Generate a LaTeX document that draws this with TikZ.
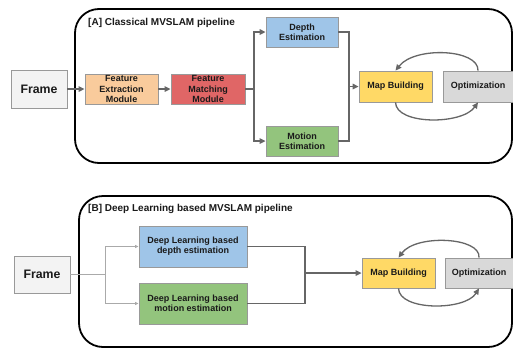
\documentclass[tikz,border=0pt]{standalone}
\usepackage{fontspec}
\setmainfont{Liberation Sans}
\usetikzlibrary{arrows.meta}
\definecolor{cFrame}{HTML}{F3F3F3}
\definecolor{cFE}{HTML}{F9CB9C}
\definecolor{cFM}{HTML}{E06666}
\definecolor{cDepth}{HTML}{9FC5E8}
\definecolor{cMotion}{HTML}{93C47D}
\definecolor{cMap}{HTML}{FFD966}
\definecolor{cOpt}{HTML}{D9D9D9}
\definecolor{cBorder}{HTML}{999999}
\definecolor{cLine}{HTML}{666666}
\definecolor{cLight}{HTML}{AAAAAA}
\definecolor{cText}{HTML}{1A1A1A}
\begin{document}
\begin{tikzpicture}[x=1pt,y=-1pt,
  box/.style={draw=cBorder,line width=0.8pt,inner sep=0pt,align=center,
    text=cText,font=\bfseries\fontsize{9}{10.2}\selectfont},
  framebox/.style={box,fill=cFrame,font=\bfseries\fontsize{12.3}{14}\selectfont},
  panel/.style={draw=black,line width=1.8pt,rounded corners=24pt},
  title/.style={anchor=west,inner sep=0pt,text=cText,font=\bfseries\fontsize{10}{12}\selectfont},
  conn/.style={draw=cLine,line width=1.3pt},
  arr/.style={conn,-{Triangle[length=6pt,width=5.5pt]}},
  thin/.style={draw=cLight,line width=0.9pt},
  thinarr/.style={thin,-{Triangle[length=3.5pt,width=3pt]}}
]
\useasboundingbox (0,0) rectangle (513,348);
\fill[white] (0,0) rectangle (513,348);

% ---------- Panel A ----------
\draw[panel] (75,9) rectangle (512,163);
\node[title] (titleA) at (88,23) {[A] Classical MVSLAM pipeline};

\node[framebox,minimum width=56pt,minimum height=38pt] (frameA) at (39,89) {Frame};
\node[box,fill=cFE,minimum width=73pt,minimum height=30pt] (fe) at (121.5,89) {Feature\\Extraction\\Module};
\node[box,fill=cFM,minimum width=74pt,minimum height=30pt] (fm) at (208,89) {Feature\\Matching\\Module};
\node[box,fill=cDepth,minimum width=72pt,minimum height=30pt] (depth) at (302,32) {Depth\\Estimation};
\node[box,fill=cMotion,minimum width=72pt,minimum height=30pt] (motion) at (302,141) {Motion\\Estimation};
\node[box,fill=cMap,minimum width=73pt,minimum height=31pt] (mapA) at (395.5,86.5) {Map Building};
\node[box,fill=cOpt,minimum width=70pt,minimum height=31pt] (optA) at (478,86.5) {Optimization};

\coordinate (splitA) at (254,89);
\coordinate (joinA) at (349,86.5);
\draw[arr] (frameA) -- (fe);
\draw[arr] (fe) -- (fm);
\draw[conn] (fm.east) -- (splitA);
\draw[arr] (splitA) |- (depth.west);
\draw[arr] (splitA) |- (motion.west);
\draw[conn] (depth.east) -| (joinA);
\draw[conn] (motion.east) -| (joinA);
\draw[arr] (joinA) -- (mapA.west);
\draw[arr] (optA.north) .. controls (479,49) and (415,46) .. (mapA.north);
\draw[arr] (mapA.south) .. controls (396,125) and (462,125) .. (optA.south);

% ---------- Panel B ----------
\draw[panel] (79,196) rectangle (512,347);
\node[title] (titleB) at (88,209) {[B] Deep Learning based MVSLAM pipeline};

\node[framebox,minimum width=56pt,minimum height=37pt] (frameB) at (42,274.5) {Frame};
\node[box,fill=cDepth,minimum width=108pt,minimum height=41pt] (dld) at (193,246.5) {Deep Learning based\\depth estimation};
\node[box,fill=cMotion,minimum width=108pt,minimum height=41pt] (dlm) at (193,303.5) {Deep Learning based\\motion estimation};
\node[box,fill=cMap,minimum width=73pt,minimum height=30pt] (mapB) at (398.5,273) {Map Building};
\node[box,fill=cOpt,minimum width=68pt,minimum height=30pt] (optB) at (479,273) {Optimization};

\coordinate (splitB) at (105,274.5);
\coordinate (joinB) at (305,273);
\draw[thin] (frameB.east) -- (splitB);
\draw[thinarr] (splitB) |- (dld.west);
\draw[thinarr] (splitB) |- (dlm.west);
\draw[conn] (dld.east) -| (joinB);
\draw[conn] (dlm.east) -| (joinB);
\draw[arr] (joinB) -- (mapB.west);
\draw[arr] (optB.north) .. controls (481,237) and (416,234) .. (mapB.north);
\draw[arr] (mapB.south) .. controls (399,311) and (465,311) .. (optB.south);
\end{tikzpicture}
\end{document}
